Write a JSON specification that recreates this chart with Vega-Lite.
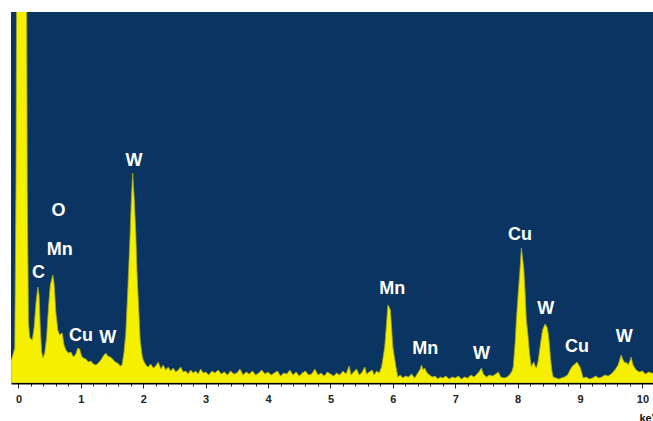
{
  "$schema": "https://vega.github.io/schema/vega-lite/v6.json",
  "width": 642,
  "height": 371,
  "autosize": {"type": "none"},
  "padding": {"left": 11, "top": 12, "right": 0, "bottom": 38},
  "background": "white",
  "config": {"view": {"fill": "#0a3562", "stroke": null}},
  "datasets": {
    "spectrum": [
      {"keV": -0.12, "counts": 22}, {"keV": -0.09, "counts": 28}, {"keV": -0.06, "counts": 35}, {"keV": -0.04, "counts": 200},
      {"keV": -0.02, "counts": 600}, {"keV": 0.0, "counts": 900}, {"keV": 0.05, "counts": 1000}, {"keV": 0.1, "counts": 900},
      {"keV": 0.12, "counts": 600}, {"keV": 0.14, "counts": 200}, {"keV": 0.16, "counts": 60}, {"keV": 0.18, "counts": 46},
      {"keV": 0.2, "counts": 44}, {"keV": 0.22, "counts": 43}, {"keV": 0.25, "counts": 55}, {"keV": 0.28, "counts": 80},
      {"keV": 0.31, "counts": 96}, {"keV": 0.33, "counts": 88}, {"keV": 0.35, "counts": 55}, {"keV": 0.37, "counts": 32},
      {"keV": 0.39, "counts": 25}, {"keV": 0.42, "counts": 30}, {"keV": 0.45, "counts": 45}, {"keV": 0.48, "counts": 75},
      {"keV": 0.51, "counts": 98}, {"keV": 0.55, "counts": 108}, {"keV": 0.57, "counts": 100}, {"keV": 0.6, "counts": 70},
      {"keV": 0.63, "counts": 53}, {"keV": 0.66, "counts": 48}, {"keV": 0.7, "counts": 50}, {"keV": 0.73, "counts": 38},
      {"keV": 0.76, "counts": 33}, {"keV": 0.8, "counts": 30}, {"keV": 0.84, "counts": 31}, {"keV": 0.88, "counts": 26},
      {"keV": 0.92, "counts": 29}, {"keV": 0.95, "counts": 35}, {"keV": 0.98, "counts": 34}, {"keV": 1.01, "counts": 27},
      {"keV": 1.04, "counts": 25}, {"keV": 1.08, "counts": 24}, {"keV": 1.12, "counts": 21}, {"keV": 1.16, "counts": 22},
      {"keV": 1.2, "counts": 19}, {"keV": 1.24, "counts": 18}, {"keV": 1.28, "counts": 20}, {"keV": 1.32, "counts": 23},
      {"keV": 1.36, "counts": 27}, {"keV": 1.4, "counts": 30}, {"keV": 1.43, "counts": 27}, {"keV": 1.47, "counts": 26},
      {"keV": 1.51, "counts": 24}, {"keV": 1.55, "counts": 21}, {"keV": 1.59, "counts": 20}, {"keV": 1.63, "counts": 17},
      {"keV": 1.66, "counts": 18}, {"keV": 1.69, "counts": 30}, {"keV": 1.72, "counts": 50}, {"keV": 1.75, "counts": 90},
      {"keV": 1.79, "counts": 150}, {"keV": 1.81, "counts": 185}, {"keV": 1.83, "counts": 210}, {"keV": 1.85, "counts": 190},
      {"keV": 1.88, "counts": 150}, {"keV": 1.9, "counts": 110}, {"keV": 1.92, "counts": 83}, {"keV": 1.95, "counts": 43},
      {"keV": 1.98, "counts": 28}, {"keV": 2.0, "counts": 23}, {"keV": 2.04, "counts": 18}, {"keV": 2.08, "counts": 16},
      {"keV": 2.12, "counts": 19}, {"keV": 2.16, "counts": 15}, {"keV": 2.2, "counts": 17}, {"keV": 2.24, "counts": 21},
      {"keV": 2.28, "counts": 14}, {"keV": 2.32, "counts": 18}, {"keV": 2.36, "counts": 13}, {"keV": 2.4, "counts": 16},
      {"keV": 2.44, "counts": 12}, {"keV": 2.48, "counts": 15}, {"keV": 2.52, "counts": 11}, {"keV": 2.56, "counts": 13},
      {"keV": 2.6, "counts": 16}, {"keV": 2.64, "counts": 11}, {"keV": 2.68, "counts": 12}, {"keV": 2.72, "counts": 9},
      {"keV": 2.76, "counts": 13}, {"keV": 2.8, "counts": 10}, {"keV": 2.84, "counts": 12}, {"keV": 2.88, "counts": 9},
      {"keV": 2.92, "counts": 14}, {"keV": 2.96, "counts": 10}, {"keV": 3.0, "counts": 11}, {"keV": 3.05, "counts": 8},
      {"keV": 3.1, "counts": 12}, {"keV": 3.15, "counts": 10}, {"keV": 3.2, "counts": 13}, {"keV": 3.25, "counts": 9},
      {"keV": 3.3, "counts": 11}, {"keV": 3.35, "counts": 8}, {"keV": 3.4, "counts": 12}, {"keV": 3.45, "counts": 9},
      {"keV": 3.5, "counts": 10}, {"keV": 3.55, "counts": 14}, {"keV": 3.6, "counts": 8}, {"keV": 3.65, "counts": 11},
      {"keV": 3.7, "counts": 9}, {"keV": 3.75, "counts": 12}, {"keV": 3.8, "counts": 8}, {"keV": 3.85, "counts": 10},
      {"keV": 3.9, "counts": 13}, {"keV": 3.95, "counts": 9}, {"keV": 4.0, "counts": 11}, {"keV": 4.05, "counts": 8},
      {"keV": 4.1, "counts": 10}, {"keV": 4.15, "counts": 12}, {"keV": 4.2, "counts": 7}, {"keV": 4.25, "counts": 10},
      {"keV": 4.3, "counts": 9}, {"keV": 4.35, "counts": 13}, {"keV": 4.4, "counts": 8}, {"keV": 4.45, "counts": 11},
      {"keV": 4.5, "counts": 7}, {"keV": 4.55, "counts": 10}, {"keV": 4.6, "counts": 12}, {"keV": 4.65, "counts": 8},
      {"keV": 4.7, "counts": 9}, {"keV": 4.75, "counts": 14}, {"keV": 4.8, "counts": 8}, {"keV": 4.85, "counts": 10},
      {"keV": 4.9, "counts": 7}, {"keV": 4.95, "counts": 11}, {"keV": 5.0, "counts": 9}, {"keV": 5.05, "counts": 7},
      {"keV": 5.1, "counts": 10}, {"keV": 5.15, "counts": 8}, {"keV": 5.2, "counts": 12}, {"keV": 5.25, "counts": 9},
      {"keV": 5.3, "counts": 17}, {"keV": 5.33, "counts": 8}, {"keV": 5.37, "counts": 11}, {"keV": 5.42, "counts": 14},
      {"keV": 5.46, "counts": 8}, {"keV": 5.5, "counts": 10}, {"keV": 5.55, "counts": 16}, {"keV": 5.58, "counts": 9},
      {"keV": 5.62, "counts": 11}, {"keV": 5.67, "counts": 13}, {"keV": 5.7, "counts": 8}, {"keV": 5.74, "counts": 12},
      {"keV": 5.78, "counts": 10}, {"keV": 5.82, "counts": 16}, {"keV": 5.85, "counts": 28}, {"keV": 5.87, "counts": 36},
      {"keV": 5.9, "counts": 60}, {"keV": 5.92, "counts": 78}, {"keV": 5.94, "counts": 76}, {"keV": 5.96, "counts": 73},
      {"keV": 5.98, "counts": 55}, {"keV": 6.0, "counts": 36}, {"keV": 6.03, "counts": 24}, {"keV": 6.05, "counts": 16},
      {"keV": 6.08, "counts": 6}, {"keV": 6.12, "counts": 8}, {"keV": 6.16, "counts": 5}, {"keV": 6.2, "counts": 7},
      {"keV": 6.25, "counts": 6}, {"keV": 6.3, "counts": 9}, {"keV": 6.35, "counts": 5}, {"keV": 6.4, "counts": 10},
      {"keV": 6.44, "counts": 14}, {"keV": 6.46, "counts": 18}, {"keV": 6.49, "counts": 13}, {"keV": 6.51, "counts": 15},
      {"keV": 6.55, "counts": 10}, {"keV": 6.59, "counts": 8}, {"keV": 6.63, "counts": 6}, {"keV": 6.68, "counts": 7},
      {"keV": 6.72, "counts": 4}, {"keV": 6.76, "counts": 6}, {"keV": 6.8, "counts": 5}, {"keV": 6.85, "counts": 7},
      {"keV": 6.9, "counts": 4}, {"keV": 6.95, "counts": 6}, {"keV": 7.0, "counts": 5}, {"keV": 7.05, "counts": 7},
      {"keV": 7.1, "counts": 4}, {"keV": 7.15, "counts": 6}, {"keV": 7.2, "counts": 5}, {"keV": 7.25, "counts": 8},
      {"keV": 7.3, "counts": 6}, {"keV": 7.35, "counts": 9}, {"keV": 7.39, "counts": 12}, {"keV": 7.42, "counts": 15},
      {"keV": 7.45, "counts": 9}, {"keV": 7.5, "counts": 6}, {"keV": 7.55, "counts": 8}, {"keV": 7.6, "counts": 7},
      {"keV": 7.65, "counts": 9}, {"keV": 7.69, "counts": 11}, {"keV": 7.73, "counts": 6}, {"keV": 7.78, "counts": 5},
      {"keV": 7.83, "counts": 6}, {"keV": 7.87, "counts": 8}, {"keV": 7.91, "counts": 12}, {"keV": 7.93, "counts": 16},
      {"keV": 7.96, "counts": 40}, {"keV": 7.98, "counts": 63}, {"keV": 8.01, "counts": 90}, {"keV": 8.04, "counts": 115},
      {"keV": 8.06, "counts": 135}, {"keV": 8.08, "counts": 125}, {"keV": 8.1, "counts": 113}, {"keV": 8.12, "counts": 90},
      {"keV": 8.14, "counts": 63}, {"keV": 8.17, "counts": 45}, {"keV": 8.19, "counts": 30}, {"keV": 8.22, "counts": 16},
      {"keV": 8.24, "counts": 19}, {"keV": 8.26, "counts": 21}, {"keV": 8.28, "counts": 17}, {"keV": 8.3, "counts": 15},
      {"keV": 8.33, "counts": 22}, {"keV": 8.36, "counts": 36}, {"keV": 8.38, "counts": 45}, {"keV": 8.4, "counts": 53},
      {"keV": 8.44, "counts": 59}, {"keV": 8.47, "counts": 56}, {"keV": 8.49, "counts": 50}, {"keV": 8.51, "counts": 38},
      {"keV": 8.53, "counts": 23}, {"keV": 8.55, "counts": 12}, {"keV": 8.57, "counts": 6}, {"keV": 8.62, "counts": 5},
      {"keV": 8.66, "counts": 4}, {"keV": 8.7, "counts": 5}, {"keV": 8.75, "counts": 6}, {"keV": 8.8, "counts": 8},
      {"keV": 8.84, "counts": 13}, {"keV": 8.88, "counts": 17}, {"keV": 8.92, "counts": 19}, {"keV": 8.95, "counts": 21},
      {"keV": 8.98, "counts": 18}, {"keV": 9.0, "counts": 16}, {"keV": 9.03, "counts": 10}, {"keV": 9.05, "counts": 5},
      {"keV": 9.1, "counts": 6}, {"keV": 9.15, "counts": 4}, {"keV": 9.2, "counts": 5}, {"keV": 9.25, "counts": 7},
      {"keV": 9.3, "counts": 5}, {"keV": 9.35, "counts": 6}, {"keV": 9.4, "counts": 8}, {"keV": 9.45, "counts": 7},
      {"keV": 9.5, "counts": 9}, {"keV": 9.53, "counts": 11}, {"keV": 9.57, "counts": 14}, {"keV": 9.61, "counts": 18},
      {"keV": 9.64, "counts": 24}, {"keV": 9.66, "counts": 28}, {"keV": 9.69, "counts": 23}, {"keV": 9.72, "counts": 20},
      {"keV": 9.74, "counts": 21}, {"keV": 9.77, "counts": 18}, {"keV": 9.8, "counts": 22}, {"keV": 9.82, "counts": 26},
      {"keV": 9.85, "counts": 18}, {"keV": 9.88, "counts": 15}, {"keV": 9.9, "counts": 13}, {"keV": 9.95, "counts": 11},
      {"keV": 10.0, "counts": 12}, {"keV": 10.05, "counts": 9}, {"keV": 10.1, "counts": 11}, {"keV": 10.15, "counts": 10},
      {"keV": 10.2, "counts": 9}
    ],
    "labels": [
      {"element": "W", "keV": 1.85, "counts": 222},
      {"element": "O", "keV": 0.64, "counts": 172},
      {"element": "Mn", "keV": 0.66, "counts": 133},
      {"element": "C", "keV": 0.32, "counts": 110},
      {"element": "Cu", "keV": 1.0, "counts": 47},
      {"element": "W", "keV": 1.43, "counts": 45},
      {"element": "Mn", "keV": 5.99, "counts": 94},
      {"element": "Mn", "keV": 6.52, "counts": 34},
      {"element": "W", "keV": 7.42, "counts": 29},
      {"element": "Cu", "keV": 8.04, "counts": 148},
      {"element": "W", "keV": 8.45, "counts": 74},
      {"element": "Cu", "keV": 8.95, "counts": 36},
      {"element": "W", "keV": 9.71, "counts": 46}
    ]
  },
  "encoding": {
    "x": {
      "field": "keV", "type": "quantitative",
      "scale": {"domain": [-0.12, 10.17], "nice": false, "zero": false},
      "axis": {
        "title": "keV",
        "titleFont": "Liberation Sans", "titleFontSize": 11, "titleFontWeight": "bold", "titleColor": "#111",
        "titleAnchor": "start", "titleAlign": "left", "titleBaseline": "alphabetic", "titleX": 628, "titleY": 38,
        "values": [0,0.2,0.4,0.6,0.8,1,1.2,1.4,1.6,1.8,2,2.2,2.4,2.6,2.8,3,3.2,3.4,3.6,3.8,4,4.2,4.4,4.6,4.8,5,5.2,5.4,5.6,5.8,6,6.2,6.4,6.6,6.8,7,7.2,7.4,7.6,7.8,8,8.2,8.4,8.6,8.8,9,9.2,9.4,9.6,9.8,10],
        "labelExpr": "abs(datum.value - round(datum.value)) < 0.001 ? format(datum.value, 'd') : ''",
        "labelFont": "Liberation Sans", "labelFontSize": 11, "labelFontWeight": "bold", "labelColor": "#222",
        "labelFlush": false, "labelOverlap": false, "labelBound": false, "labelPadding": 5,
        "domainColor": "#000", "domainWidth": 2,
        "tickColor": "#222", "tickWidth": 1,
        "tickSize": {"condition": {"test": "abs(datum.value - round(datum.value)) < 0.001", "value": 5}, "value": 3},
        "grid": false
      }
    },
    "y": {
      "field": "counts", "type": "quantitative",
      "scale": {"domain": [0, 371], "nice": false},
      "axis": null
    }
  },
  "layer": [
    {
      "data": {"name": "spectrum"},
      "mark": {"type": "area", "clip": true, "color": "#f4f000", "stroke": "#a8a420", "strokeWidth": 0.8, "interpolate": "linear"}
    },
    {
      "data": {"name": "labels"},
      "mark": {"type": "text", "color": "white", "font": "Liberation Sans", "fontWeight": "bold", "fontSize": 18, "align": "center", "baseline": "middle"},
      "encoding": {
        "text": {"field": "element", "type": "nominal"}
      }
    }
  ]
}
